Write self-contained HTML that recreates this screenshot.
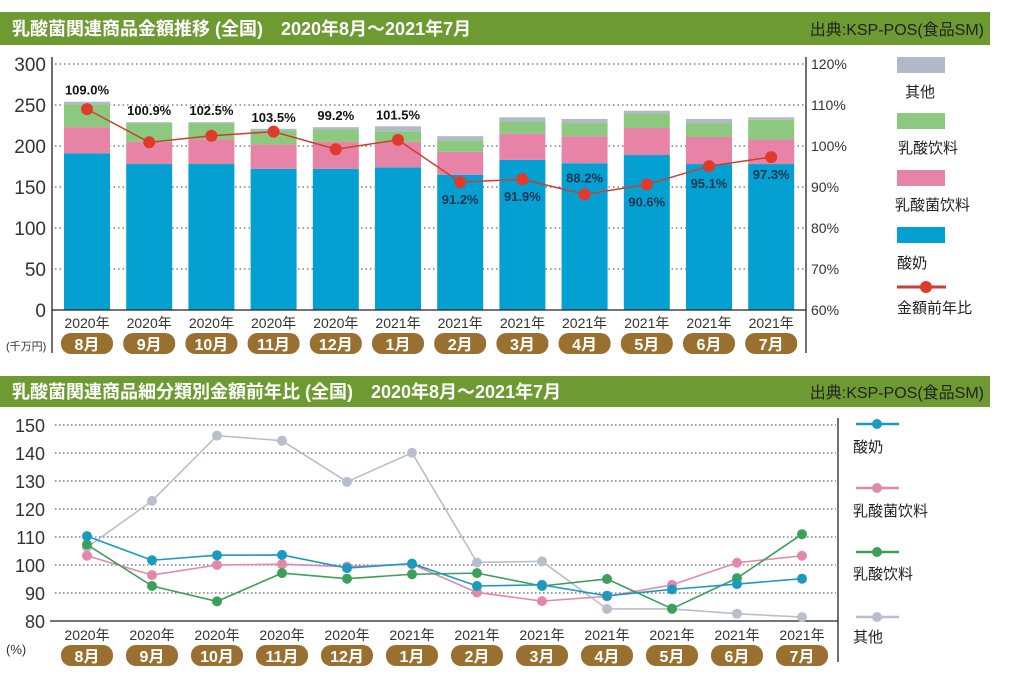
<!DOCTYPE html>
<html><head><meta charset="utf-8">
<style>
body{margin:0;background:#fff;width:1012px;height:682px;overflow:hidden;font-family:"Liberation Sans","Noto Sans CJK JP",sans-serif;}
svg{position:absolute;left:0;top:0}
</style></head>
<body>
<svg id="s" width="1012" height="682" viewBox="0 0 1012 682" xmlns="http://www.w3.org/2000/svg" font-family="Liberation Sans, Noto Sans CJK JP, sans-serif">
<rect x="0" y="12" width="990" height="33" fill="#6e9a32"/>
<text x="12" y="35" fill="#fff" font-size="18" font-weight="bold">乳酸菌関連商品金額推移 (全国)　2020年8月～2021年7月</text>
<text x="984" y="35" fill="#222" font-size="16" text-anchor="end">出典:KSP-POS(食品SM)</text>
<rect x="0" y="376" width="990" height="31" fill="#6e9a32"/>
<text x="12" y="398" fill="#fff" font-size="18" font-weight="bold">乳酸菌関連商品細分類別金額前年比 (全国)　2020年8月～2021年7月</text>
<text x="984" y="398" fill="#222" font-size="16" text-anchor="end">出典:KSP-POS(食品SM)</text>
<g id="c1"></g><g id="c2"></g>
</svg>
<script>
const years=["2020年","2020年","2020年","2020年","2020年","2021年","2021年","2021年","2021年","2021年","2021年","2021年"];
const months=["8月","9月","10月","11月","12月","1月","2月","3月","4月","5月","6月","7月"];
const yogurt=[191,178,178,172,172,174,165,183,179,189,178,178];
const lacDrink=[32,27,30,30,33,31,28,32,33,33,33,30];
const acidDrink=[28,23,20,17,15,13,14,15,16,17,17,24];
const other=[3,1,1,2,3,6,5,5,5,4,5,3];
const ratio=[109.0,100.9,102.5,103.5,99.2,101.5,91.2,91.9,88.2,90.6,95.1,97.3];
const leftTicks=[0,50,100,150,200,250,300];
const rightTicks=[60,70,80,90,100,110,120];
const s2Yogurt=[110.3,101.7,103.5,103.6,98.9,100.5,92.5,92.9,89,91.3,93.2,95.1];
const s2Lac=[103.3,96.4,100,100.3,99.4,100.3,90.2,87.1,88.8,92.9,100.8,103.3];
const s2Acid=[107.3,92.5,87,97.1,95.1,96.7,97.1,92.5,95,84.4,95.3,111];
const s2Other=[106.3,122.9,146.2,144.4,129.7,140.1,100.9,101.3,84.3,84.3,82.6,81.4];
const ticks2=[80,90,100,110,120,130,140,150];

const NS="http://www.w3.org/2000/svg";
function mk(p,t,a,txt){const e=document.createElementNS(NS,t);for(const k in a)e.setAttribute(k,a[k]);if(txt!=null)e.textContent=txt;p.appendChild(e);return e;}
const c1=document.getElementById('c1'),c2=document.getElementById('c2');
// chart 1
const y1=v=>310-v*0.82, yr=v=>310-(v-60)*4.1, x1=i=>87+i*62.2;
leftTicks.forEach(t=>{
 if(t>0){const g=mk(c1,'line',{x1:55,x2:806,y1:y1(t),y2:y1(t),stroke:'#666','stroke-dasharray':'1.5 3','stroke-width':1.2});
 }
 const l=mk(c1,'text',{x:46,y:y1(t)+7,'text-anchor':'end','font-size':19,fill:'#333'},t);
 
});
rightTicks.forEach(t=>{
 const l=mk(c1,'text',{x:811,y:yr(t)+5,'font-size':14,fill:'#333'},t+'%');
 
});
const cols=['#05a0d2','#e883a8','#8cc97e','#b0b9c8'];
const names=['bar-yogurt','bar-lactic-bacteria-drink','bar-lactic-drink','bar-other'];
months.forEach((m,i)=>{
 let base=0;
 [yogurt,lacDrink,acidDrink,other].forEach((arr,k)=>{
  const r=mk(c1,'rect',{x:x1(i)-23,y:y1(base+arr[i]),width:46,height:y1(base)-y1(base+arr[i]),fill:cols[k]});
  
  base+=arr[i];
 });
 const yt=mk(c1,'text',{x:x1(i),y:328,'text-anchor':'middle','font-size':14,fill:'#333'},years[i]);
 
 const p=mk(c1,'rect',{x:x1(i)-26,y:333,width:52,height:21,rx:10,fill:'#9a7031'});
 
 const mt=mk(c1,'text',{x:x1(i),y:350,'text-anchor':'middle','font-size':16,'font-weight':'bold',fill:'#fff'},m);
 
});
let ax=mk(c1,'line',{x1:52,x2:52,y1:57,y2:353,stroke:'#222','stroke-width':1.3});
ax=mk(c1,'line',{x1:806,x2:806,y1:57,y2:353,stroke:'#222','stroke-width':1.3});
ax=mk(c1,'line',{x1:52,x2:806,y1:310,y2:310,stroke:'#222','stroke-width':1.3});
const unit=mk(c1,'text',{x:6,y:350,'font-size':11,fill:'#333'},'(千万円)');
const pl=mk(c1,'polyline',{points:ratio.map((v,i)=>x1(i)+','+yr(v)).join(' '),fill:'none',stroke:'#c94030','stroke-width':1.5});

ratio.forEach((v,i)=>{
 const d=mk(c1,'circle',{cx:x1(i),cy:yr(v),r:6,fill:'#e03a2c'});
 
 let ty,fill;
 if(i<6){let tot=yogurt[i]+lacDrink[i]+acidDrink[i]+other[i];ty=y1(tot)-7;fill='#111';}
 else{ty=yr(v)+(i===8?-12:22);fill='#1a3550';}
 const l=mk(c1,'text',{x:x1(i),y:ty,'text-anchor':'middle','font-size':13,'font-weight':'bold',fill:fill},v.toFixed(1)+'%');
 
});
// legend 1
const lg1=[['#b0b9c8','其他',57,97,905],['#8cc97e','乳酸饮料',113,153,898],['#e883a8','乳酸菌饮料',170,210,895],['#05a0d2','酸奶',227,268,897]];
lg1.forEach(e=>{
 const r=mk(c1,'rect',{x:897,y:e[2],width:48,height:16,fill:e[0]});
 const t=mk(c1,'text',{x:e[4],y:e[3],'font-size':15,fill:'#222'},e[1]);
});
let lr=mk(c1,'line',{x1:897,x2:946,y1:287,y2:287,stroke:'#c94030','stroke-width':3});
lr=mk(c1,'circle',{cx:926,cy:287,r:6,fill:'#e03a2c'});
lr=mk(c1,'text',{x:897,y:313,'font-size':15,fill:'#222'},'金額前年比');

// chart 2
const y2=v=>621-(v-80)*2.8, x2=i=>87+i*65;
ticks2.forEach(t=>{
 if(t>80){const g=mk(c2,'line',{x1:55,x2:836,y1:y2(t),y2:y2(t),stroke:'#666','stroke-dasharray':'1.5 2.5','stroke-width':1.2});
 }
 const l=mk(c2,'text',{x:45,y:y2(t)+7,'text-anchor':'end','font-size':18,fill:'#333'},t);
 
});
ax=mk(c2,'line',{x1:50,x2:838,y1:621,y2:621,stroke:'#222','stroke-width':1.3});
ax=mk(c2,'line',{x1:838,x2:838,y1:418,y2:662,stroke:'#222','stroke-width':1.3});
months.forEach((m,i)=>{
 const yt=mk(c2,'text',{x:x2(i),y:640,'text-anchor':'middle','font-size':14,fill:'#333'},years[i]);
 
 const p=mk(c2,'rect',{x:x2(i)-26,y:645,width:52,height:21,rx:10,fill:'#9a7031'});
 
 const mt=mk(c2,'text',{x:x2(i),y:662,'text-anchor':'middle','font-size':16,'font-weight':'bold',fill:'#fff'},m);
 
});
const pu=mk(c2,'text',{x:6,y:654,'font-size':13,fill:'#333'},'(%)');
const series=[[s2Other,'#b8bfcc','line-other'],[s2Lac,'#e388aa','line-lactic-bacteria-drink'],[s2Acid,'#3aa05a','line-lactic-drink'],[s2Yogurt,'#1a9ac0','line-yogurt']];
series.forEach(s=>{
 const l=mk(c2,'polyline',{points:s[0].map((v,i)=>x2(i)+','+y2(v)).join(' '),fill:'none',stroke:s[1],'stroke-width':1.6});
 
 s[0].forEach((v,i)=>{const d=mk(c2,'circle',{cx:x2(i),cy:y2(v),r:5,fill:s[1]});
  });
});
const lg2=[['#1a9ac0','酸奶',424,452],['#e388aa','乳酸菌饮料',488,516],['#3aa05a','乳酸饮料',552,579],['#b8bfcc','其他',617,642]];
lg2.forEach(e=>{
 const l=mk(c2,'line',{x1:856,x2:899,y1:e[2],y2:e[2],stroke:e[0],'stroke-width':2.5});
 const d=mk(c2,'circle',{cx:877,cy:e[2],r:5,fill:e[0]});
 const t=mk(c2,'text',{x:853,y:e[3],'font-size':15,fill:'#222'},e[1]);
});
</script>
</body></html>
